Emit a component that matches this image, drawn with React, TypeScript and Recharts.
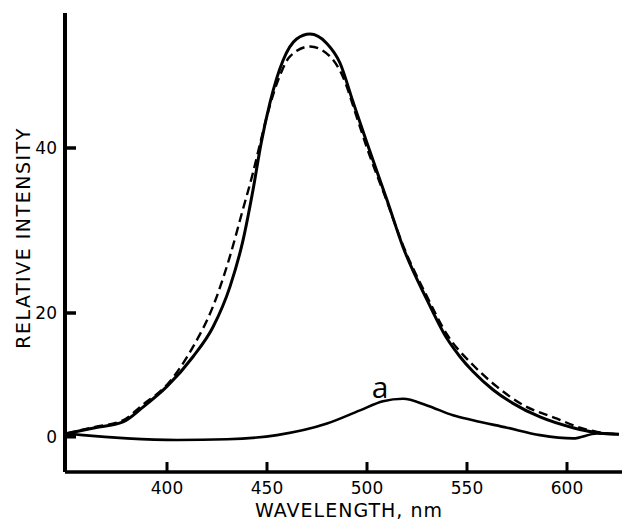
import React from 'react';
import { LineChart, Line, XAxis, YAxis, ReferenceDot } from 'recharts';

// emission spectra, wavelength (nm) vs relative intensity
const solidWl = [350, 364, 378, 388, 400, 413, 423, 431.5, 438, 443, 447, 451.5, 458, 464.8, 471.5, 479.8, 486.5, 493, 500, 510, 518, 530, 540, 546.5, 553, 563, 573, 586.5, 603, 615, 626];
const solidVal = [5.4, 6.1, 6.8, 8.6, 11.1, 14.7, 18.3, 23.2, 28.8, 34.9, 40.5, 45.5, 50.6, 53.2, 53.8, 52.7, 50.3, 45.6, 40.6, 33.7, 28, 21.6, 16.9, 14.7, 12.9, 10.7, 9.05, 7.4, 6.1, 5.5, 5.3];

const dashedWl = [350, 364, 378, 388, 400, 413, 423, 431.5, 438, 443, 447, 451.5, 456.5, 461.5, 471.5, 481.5, 488, 494.8, 500, 510, 518, 530, 540, 553, 564.8, 578, 595, 606.5, 615, 626];
const dashedVal = [5.4, 6.2, 7.0, 8.9, 11.3, 15.9, 20.8, 26.9, 32.6, 37.0, 41.0, 45.2, 48.8, 51.1, 52.3, 51.1, 48.6, 43.8, 40.0, 33.5, 28.2, 22.0, 17.4, 13.7, 11.1, 8.85, 7.2, 6.1, 5.6, 5.3];

const aWl = [350, 358, 380, 405, 430, 455, 480, 496.5, 508, 518, 530, 543, 553, 570, 586.5, 603, 615, 626];
const aVal = [5.4, 5.2, 4.8, 4.6, 4.7, 5.2, 6.6, 8.2, 9.3, 9.6, 8.8, 7.6, 7.0, 6.1, 5.2, 4.8, 5.4, 5.3];

const xTicks = [400, 450, 500, 550, 600];
const yTickValues = [5, 20, 40];
const yTickLabels = ['0', '20', '40'];

const toPoints = (wl: number[], val: number[]) => wl.map((w, i) => ({ wl: w, v: val[i] }));

const FONT = '"DejaVu Sans", sans-serif';

const XTick = (props: any) => {
  const { x, y, payload } = props;
  const axisY = y - 10;
  return (
    <g>
      <line x1={x} x2={x} y1={axisY} y2={axisY - 10} stroke="#000" strokeWidth={3} />
      <text x={x} y={y} dy="0.71em" textAnchor="middle" fontSize={17} fontFamily={FONT} fill="#000">
        {payload.value}
      </text>
    </g>
  );
};

const YTick = (props: any) => {
  const { x, y, payload } = props;
  const axisX = x + 8;
  const idx = yTickValues.indexOf(payload.value);
  return (
    <g>
      <line x1={axisX} x2={axisX + 11} y1={y} y2={y} stroke="#000" strokeWidth={3.5} />
      <text x={x} y={y} dy="0.355em" textAnchor="end" fontSize={17} fontFamily={FONT} fill="#000">
        {yTickLabels[idx]}
      </text>
    </g>
  );
};

const XTitle = () => (
  <text x={349} y={517} textAnchor="middle" fontSize={19} letterSpacing={1} fontFamily={FONT} fill="#000">
    WAVELENGTH, nm
  </text>
);

const YTitle = () => (
  <text
    x={23}
    y={238}
    dy="0.355em"
    transform="rotate(-90, 23, 238)"
    textAnchor="middle"
    fontSize={19}
    letterSpacing={1.5}
    fontFamily={FONT}
    fill="#000"
  >
    RELATIVE INTENSITY
  </text>
);

const App = () => {
  return (
    <div style={{ position: 'absolute', left: 0, top: 0, width: 622, height: 521, background: '#fff' }}>
      <LineChart width={622} height={521} margin={{ top: 13, right: 0, left: 0, bottom: 0 }}>
        <XAxis
          type="number"
          dataKey="wl"
          domain={[349, 627.5]}
          allowDataOverflow
          ticks={xTicks}
          interval={0}
          height={49}
          tickSize={0}
          tickMargin={10}
          tick={<XTick />}
          axisLine={{ stroke: '#000', strokeWidth: 3.5 }}
          tickLine={false}
          label={() => <XTitle />}
        />
        <YAxis
          type="number"
          dataKey="v"
          domain={[0.73, 56.36]}
          allowDataOverflow
          ticks={yTickValues}
          interval={0}
          width={65}
          tickSize={0}
          tickMargin={8}
          tick={<YTick />}
          axisLine={{ stroke: '#000', strokeWidth: 4 }}
          tickLine={false}
          label={() => <YTitle />}
        />
        <Line
          data={toPoints(aWl, aVal)}
          dataKey="v"
          type="monotone"
          stroke="#000"
          strokeWidth={2.6}
          dot={false}
          isAnimationActive={false}
        />
        <Line
          data={toPoints(dashedWl, dashedVal)}
          dataKey="v"
          type="monotone"
          stroke="#000"
          strokeWidth={2.4}
          strokeDasharray="9 5"
          dot={false}
          isAnimationActive={false}
        />
        <Line
          data={toPoints(solidWl, solidVal)}
          dataKey="v"
          type="monotone"
          stroke="#000"
          strokeWidth={3}
          dot={false}
          isAnimationActive={false}
        />
        <ReferenceDot
          x={506.5}
          y={11}
          r={0}
          fill="none"
          stroke="none"
          label={{ value: 'a', position: 'center', fontSize: 30, fontFamily: '"Open Sans", sans-serif', fill: '#000' }}
        />
      </LineChart>
    </div>
  );
};

export default App;
